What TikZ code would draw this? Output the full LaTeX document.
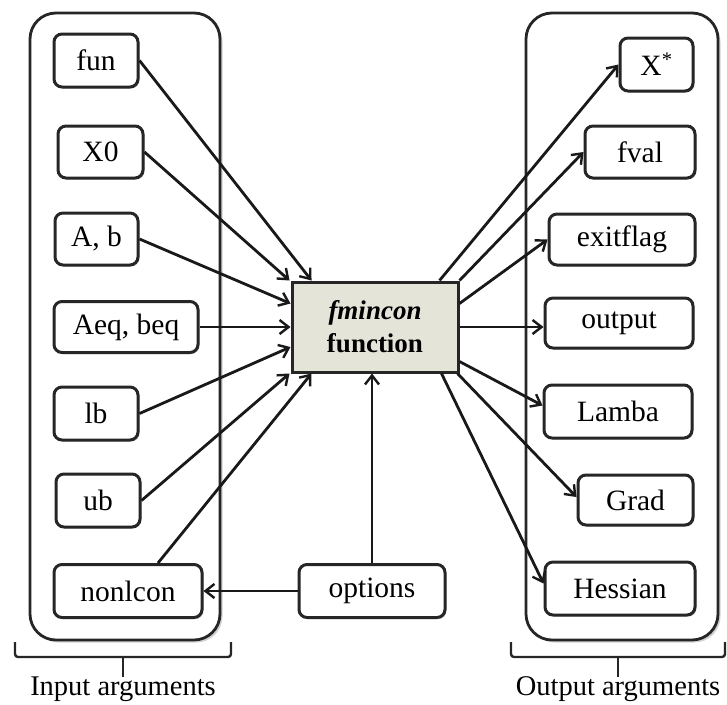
\documentclass[tikz,border=0pt]{standalone}
\usepackage{fontspec}
\setmainfont{Liberation Serif}
\usetikzlibrary{arrows.meta,shadows}
\definecolor{fillc}{HTML}{E4E4D9}
\begin{document}
\begin{tikzpicture}[x=1pt,y=-1pt,
  lbl/.style={font=\fontsize{29.5}{31}\selectfont},
  box/.style={draw=black!85, line width=3pt, rounded corners=8pt, fill=white, inner sep=0pt,
    drop shadow={shadow xshift=1.5pt, shadow yshift=-1.5pt, opacity=.3}, lbl},
  cont/.style={draw=black!85, line width=2.8pt, rounded corners=26pt, fill=white,
    drop shadow={shadow xshift=2.5pt, shadow yshift=-2.5pt, opacity=.35}},
  arr/.style={line width=2.8pt, black!90, -{Straight Barb[length=9pt,width=14pt,line width=2.4pt]}},
  brc/.style={line width=2.4pt, black!85, rounded corners=3pt}
]
\useasboundingbox (0,0) rectangle (727,704);
% containers
\draw[cont] (30,13) rectangle (220,640);
\draw[cont] (526,13) rectangle (718,640);
% left boxes
\node[box, minimum width=84pt, minimum height=53pt] (fun) at (96,60.5) {fun};
\node[box, minimum width=85pt, minimum height=52pt] (x0) at (100.5,152) {X0};
\node[box, minimum width=83pt, minimum height=52pt] (ab) at (96.5,239) {A, b};
\node[box, minimum width=144pt, minimum height=51pt] (aeq) at (126,327) {Aeq, beq};
\node[box, minimum width=84pt, minimum height=53pt] (lb) at (96,413.5) {lb};
\node[box, minimum width=84pt, minimum height=53pt] (ub) at (98,500.5) {ub};
\node[box, minimum width=148pt, minimum height=53pt] (nonlcon) at (128,591) {nonlcon};
% center
\node[draw=black!85, line width=3pt, fill=fillc, inner sep=0pt, minimum width=166pt, minimum height=90pt,
  drop shadow={shadow xshift=1.5pt, shadow yshift=-1.5pt, opacity=.3},
  align=center, font=\fontsize{27}{33}\selectfont\bfseries] (fm) at (375,327) {\textit{fmincon}\\function};
\node[box, minimum width=146pt, minimum height=53pt] (opt) at (372,591) {options};
% right boxes
\node[box, minimum width=73pt, minimum height=53pt] (xs) at (656.5,64.5) {X\textsuperscript{*}};
\node[box, minimum width=110pt, minimum height=52pt] (fval) at (640,152) {fval};
\node[box, minimum width=146pt, minimum height=51pt] (exit) at (622,239.5) {exitflag};
\node[box, minimum width=148pt, minimum height=50pt] (out) at (619,323) {output};
\node[box, minimum width=148pt, minimum height=53pt] (lam) at (618,411.5) {Lamba};
\node[box, minimum width=115pt, minimum height=50pt] (grad) at (635.5,500) {Grad};
\node[box, minimum width=150pt, minimum height=53pt] (hes) at (620,588.5) {Hessian};
% input arrows
\draw[arr] (fun.east) -- ([xshift=21pt]fm.north west);
\draw[arr] (x0.east) -- ([xshift=-1pt]fm.north west);
\draw[arr] (ab.east) -- ([yshift=-23pt]fm.north west);
\draw[arr] (aeq.east) -- (aeq.east -| fm.west);
\draw[arr] (lb.east) -- ([yshift=-20pt]fm.west);
\draw[arr] (ub.east) -- ([xshift=-1pt]fm.south west);
\draw[arr] ([xshift=30pt]nonlcon.north) -- ([xshift=21pt]fm.south west);
\draw[arr] (opt.north) -- (opt.north |- fm.south);
\draw[arr] (opt.west) -- (nonlcon.east);
% output arrows
\draw[arr] ([xshift=-20pt]fm.north east) -- (xs.west);
\draw[arr] (fm.north east) -- (fval.west);
\draw[arr] ([yshift=-23pt]fm.north east) -- (exit.west);
\draw[arr] (fm.east) -- (fm.east -| out.west);
\draw[arr] ([yshift=12pt]fm.south east) -- ([yshift=6pt]lam.west);
\draw[arr] ([xshift=-2pt]fm.south east) -- ([yshift=3pt]grad.west);
\draw[arr] ([xshift=-18pt]fm.south east) -- ([yshift=5pt]hes.west);
% braces
\draw[brc] (15,642) -- (15,657) -- (231,657) -- (231,642);
\draw[brc] (123,657) -- (123,677);
\draw[brc] (511,642) -- (511,657) -- (725,657) -- (725,642);
\draw[brc] (618,657) -- (618,677);
\node[font=\fontsize{28.5}{30}\selectfont] (inl) at (123,689) {Input arguments};
\node[font=\fontsize{28.5}{30}\selectfont] (outl) at (618,689) {Output arguments};
\end{tikzpicture}
\end{document}
